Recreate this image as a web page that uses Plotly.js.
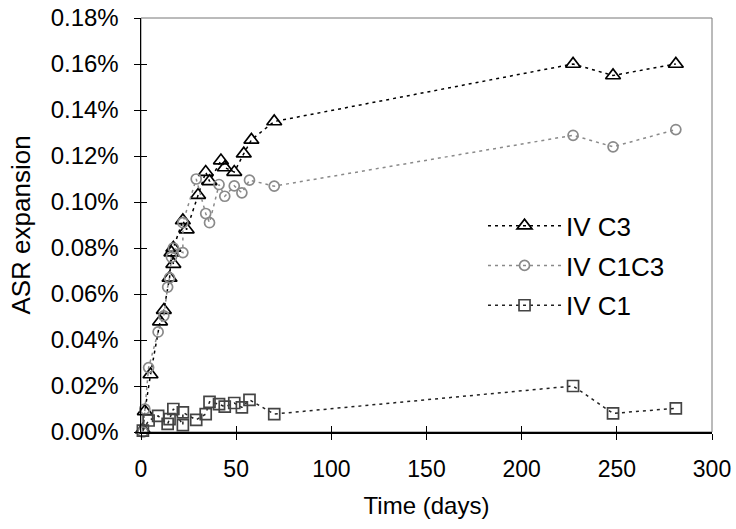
<!DOCTYPE html>
<html>
<head>
<meta charset="utf-8">
<script src="https://cdn.plot.ly/plotly-3.0.1.min.js"></script>
<style>html,body{margin:0;padding:0;background:#fff}#chart{width:736px;height:529px}</style>
</head>
<body>
<div id="chart"></div>
<script>
// Time (days) and ASR expansion (%)
const daysC3 = [1, 2, 5, 10, 12, 15, 16, 17, 17, 22, 24, 30, 34, 36, 42, 44, 49, 54, 58, 70, 227, 248, 281];
const valsC3 = [0.001, 0.009, 0.025, 0.048, 0.053, 0.067, 0.078, 0.073, 0.080, 0.092, 0.088, 0.103, 0.113, 0.109, 0.118, 0.115, 0.113, 0.121, 0.127, 0.135, 0.160, 0.155, 0.160];

const daysC1C3 = [1, 2, 4, 9, 12, 14, 15, 16, 17, 22, 22, 29, 34, 36, 41, 44, 49, 53, 57, 70, 227, 248, 281];
const valsC1C3 = [0.000, 0.010, 0.028, 0.0435, 0.0505, 0.063, 0.067, 0.076, 0.080, 0.078, 0.091, 0.110, 0.095, 0.091, 0.1076, 0.1025, 0.107, 0.104, 0.1095, 0.1069, 0.129, 0.124, 0.1315];

const daysC1 = [1, 4, 9, 14, 15, 17, 22, 22, 29, 34, 36, 41, 44, 49, 53, 57, 70, 227, 248, 281];
const valsC1 = [0.0006, 0.005, 0.007, 0.0035, 0.0056, 0.010, 0.003, 0.0085, 0.0053, 0.0078, 0.0131, 0.0121, 0.011, 0.0126, 0.0107, 0.014, 0.0078, 0.020, 0.0081, 0.0103];

const seriesNames = ['IV C3', 'IV C1C3', 'IV C1'];
const xTicks = [0, 50, 100, 150, 200, 250, 300];
const yTicks = [0, 0.02, 0.04, 0.06, 0.08, 0.10, 0.12, 0.14, 0.16, 0.18];

const FONT = 'Liberation Sans, Arial, sans-serif';

const traces = [
  {
    x: daysC3, y: valsC3, name: seriesNames[0], legendgroup: 'a', mode: 'lines+markers', cliponaxis: false,
    line: {color: '#000', width: 1.5, dash: '3px,4px'},
    marker: {symbol: 'triangle-up-open', size: 13, color: '#000', line: {color: '#000', width: 1.7}}
  },
  {
    x: daysC1C3, y: valsC1C3, name: seriesNames[1], legendgroup: 'b', mode: 'lines+markers', cliponaxis: false,
    line: {color: '#8a8a8a', width: 1.5, dash: '3px,4px'},
    marker: {symbol: 'circle-open', size: 10, color: '#8a8a8a', line: {color: '#8a8a8a', width: 1.7}}
  },
  {
    x: daysC1, y: valsC1, name: seriesNames[2], legendgroup: 'c', mode: 'lines+markers', cliponaxis: false,
    line: {color: '#222', width: 1.5, dash: '3px,4px'},
    marker: {symbol: 'square-open', size: 11, color: '#444', line: {color: '#444', width: 1.7}}
  },
  {
    x: [], y: [], xaxis: 'x2', yaxis: 'y2', showlegend: false, hoverinfo: 'skip', mode: 'markers'
  }
];

const layout = {
  width: 736, height: 529,
  margin: {l: 141, r: 24, t: 18, b: 97},
  paper_bgcolor: '#fff', plot_bgcolor: '#fff',
  font: {family: FONT, size: 23, color: '#000'},
  showlegend: true,
  legend: {
    x: 0.599, y: 0.555, xanchor: 'left', yanchor: 'top',
    font: {family: FONT, size: 26, color: '#000'},
    bgcolor: 'rgba(0,0,0,0)', itemwidth: 73, traceorder: 'grouped', tracegroupgap: 3
  },
  xaxis: {
    range: [0, 300], tickvals: xTicks, ticktext: xTicks.map(String),
    ticks: 'outside', ticklen: 6, tickcolor: '#000', tickwidth: 1,
    showline: true, linecolor: '#000', linewidth: 1.5,
    showgrid: false, zeroline: false, ticklabelstandoff: 10,
    tickfont: {family: FONT, size: 23},
    title: {text: 'Time (days)', font: {family: FONT, size: 24}, standoff: 16}
  },
  yaxis: {
    range: [0, 0.18], tickvals: yTicks, ticktext: yTicks.map(v => v.toFixed(2) + '%'),
    ticks: 'outside', ticklen: 6, tickcolor: '#000', tickwidth: 1,
    showline: true, linecolor: '#000', linewidth: 1.5,
    showgrid: false, zeroline: false, ticklabelstandoff: 10,
    tickfont: {family: FONT, size: 24},
    title: {text: 'ASR expansion', font: {family: FONT, size: 26}, standoff: 12}
  },
  xaxis2: {
    overlaying: 'x', anchor: 'y2', range: [0, 300], tickvals: xTicks,
    showticklabels: false, ticks: 'inside', ticklen: 6, tickcolor: '#000',
    showgrid: false, zeroline: false, showline: false, side: 'bottom'
  },
  yaxis2: {
    overlaying: 'y', anchor: 'x2', range: [0, 0.18], tickvals: yTicks,
    showticklabels: false, ticks: 'inside', ticklen: 6, tickcolor: '#000',
    showgrid: false, zeroline: false, showline: false, side: 'left'
  },
  shapes: [
    {type: 'rect', xref: 'paper', yref: 'paper', x0: 0, x1: 1, y0: 0, y1: 1,
     line: {color: '#777', width: 1}, layer: 'below'}
  ]
};

Plotly.newPlot('chart', traces, layout, {displayModeBar: false, staticPlot: true});
</script>
</body>
</html>
